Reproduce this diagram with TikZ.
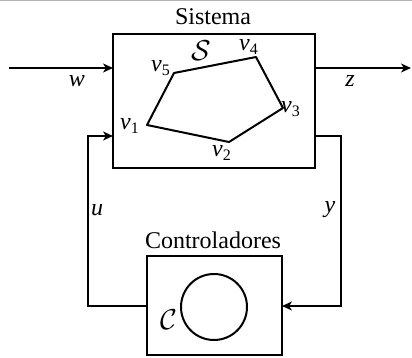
\documentclass[tikz,border=0pt]{standalone}
\usepackage{fontspec}
\setmainfont{Liberation Serif}
\usetikzlibrary{arrows.meta}
\begin{document}
\begin{tikzpicture}[x=0.5pt,y=-0.5pt,
  line width=1pt,
  blk/.style={draw, line width=1pt, inner sep=0pt, outer sep=0pt},
  arr/.style={-{Stealth[length=5pt,width=4.5pt,inset=1.5pt]}},
  lbl/.style={inner sep=0pt, font=\fontsize{12}{14}\selectfont},
  cal/.style={inner sep=0pt, font=\fontsize{15}{17}\selectfont},
  every node/.style={font=\fontsize{12}{14}\selectfont}]
\useasboundingbox (0,0) rectangle (412,358);
\draw[gray!60, line width=0.5pt] (0,0.5) -- (412,0.5);
% blocks
\node[blk, minimum width=101pt, minimum height=67pt] (sys) at (214,101) {};
\node[blk, minimum width=67.5pt, minimum height=49.5pt] (ctl) at (214.5,305.5) {};
\node[draw, circle, line width=1pt, minimum size=33pt, inner sep=0pt] (circ) at (214,307) {};
\node[lbl] (sistema) at (213,17) {Sistema};
\node[lbl] (contr) at (213,240) {Controladores};
\node[cal] (calC) at (169,320) {$\mathcal{C}$};
\node[cal] (calS) at (201,51) {$\mathcal{S}$};
% polygon
\coordinate (v1) at (147,125);
\coordinate (v2) at (229,142);
\coordinate (v3) at (283,108);
\coordinate (v4) at (256,57);
\coordinate (v5) at (174,73);
\draw[line join=round] (v1) -- (v2) -- (v3) -- (v4) -- (v5) -- cycle;
\node[lbl] (l1) at (130,126) {\textit{v}\textsubscript{1}};
\node[lbl] (l2) at (222,153) {\textit{v}\textsubscript{2}};
\node[lbl] (l3) at (291,109) {\textit{v}\textsubscript{3}};
\node[lbl] (l4) at (249,47) {\textit{v}\textsubscript{4}};
\node[lbl] (l5) at (161,68) {\textit{v}\textsubscript{5}};
% signals
\coordinate (win) at (9,68);
\coordinate (zout) at (411,68);
\draw[arr] (win) -- (sys.west |- win);
\draw[arr] (sys.east |- zout) -- (zout);
\node[lbl] (w) at (77,81) {\textit{w}};
\node[lbl] (z) at (350,81) {\textit{z}};
% feedback
\coordinate (uc) at (88,306);
\coordinate (ut) at (88,136);
\coordinate (yc) at (341,136);
\coordinate (yb) at (341,306);
\draw[arr] (ctl.west |- uc) -- (uc) -- (ut) -- (sys.west |- ut);
\draw[arr] (sys.east |- yc) -- (yc) -- (yb) -- (ctl.east |- yb);
\node[lbl] (u) at (97,210) {\textit{u}};
\node[lbl] (y) at (330,210) {\textit{y}};
\end{tikzpicture}
\end{document}
